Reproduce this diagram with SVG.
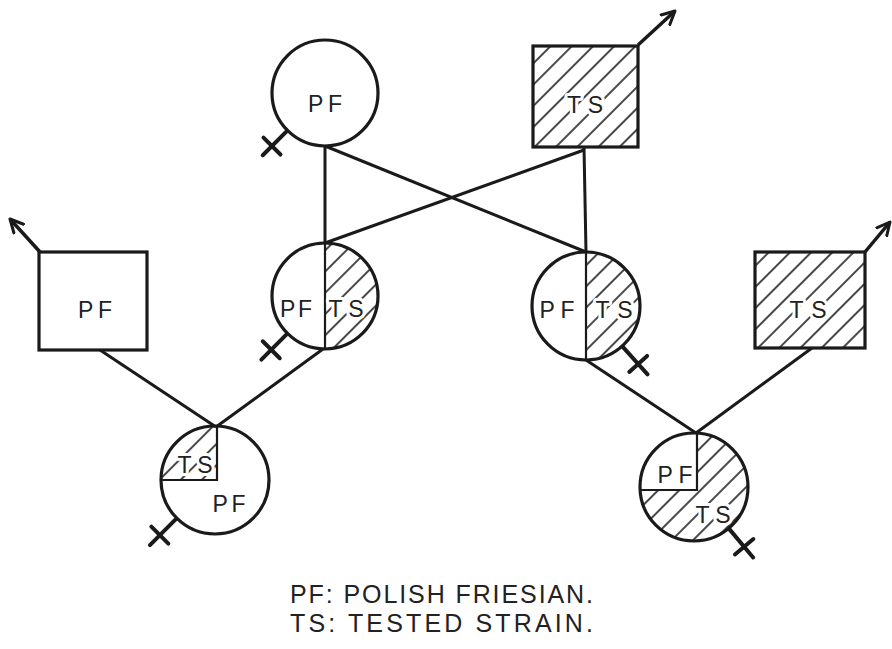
<svg xmlns="http://www.w3.org/2000/svg" width="892" height="649" viewBox="0 0 892 649">
<style>
.sh{fill:none;stroke:#1a1a1a;stroke-width:3.2}
.hf{fill:url(#hatch);stroke:none}
.dv{fill:none;stroke:#1a1a1a;stroke-width:2.2}
.cn{fill:none;stroke:#1a1a1a;stroke-width:3}
.fm{fill:none;stroke:#1a1a1a;stroke-width:4;stroke-linecap:round}
.ar{fill:none;stroke:#1a1a1a;stroke-width:3.5}
text{font-family:"Liberation Sans","DejaVu Sans",sans-serif;fill:#222;}
.lb{font-size:23px;text-anchor:middle}
.hl{stroke:#fff;stroke-width:6;paint-order:stroke;stroke-linejoin:round}
.lg{font-size:25px}
</style>
<defs>
<pattern id="hatch" patternUnits="userSpaceOnUse" width="15" height="15" patternTransform="rotate(45)">
<line x1="2" y1="-2" x2="2" y2="17" stroke="#1a1a1a" stroke-width="1.6"/>
</pattern>
<marker id="ah" viewBox="0 0 16 16" refX="14" refY="8" markerWidth="16" markerHeight="16" markerUnits="userSpaceOnUse" orient="auto">
<path d="M1,1.5 L14,8 L1,14.5" fill="none" stroke="#1a1a1a" stroke-width="3" stroke-linecap="round" stroke-linejoin="round"/>
</marker>
</defs>
<rect width="892" height="649" fill="#fff"/>

<g id="connectors">
<line class="cn" x1="325" y1="146" x2="325" y2="243"/>
<line class="cn" x1="325" y1="146" x2="586" y2="252"/>
<line class="cn" x1="584" y1="147" x2="586" y2="252"/>
<line class="cn" x1="584" y1="150" x2="325" y2="243"/>
<line class="cn" x1="100" y1="350" x2="216" y2="427"/>
<line class="cn" x1="323" y1="349" x2="216" y2="427"/>
<line class="cn" x1="586" y1="360" x2="696" y2="433"/>
<line class="cn" x1="812" y1="348" x2="696" y2="433"/>
<line class="ar" x1="638" y1="45" x2="675" y2="11" marker-end="url(#ah)"/>
<line class="ar" x1="40" y1="252" x2="10" y2="219" marker-end="url(#ah)"/>
<line class="ar" x1="865" y1="252" x2="890" y2="222" marker-end="url(#ah)"/>
</g>

<g id="node-pf-top">
<circle class="sh" cx="325" cy="93" r="53"/>
<g transform="translate(325,93) rotate(135)"><line class="fm" x1="54" y1="0" x2="88" y2="0"/><line class="fm" x1="75" y1="-12" x2="75" y2="12"/></g>
<text class="lb" x="325" y="112" textLength="34">PF</text>
</g>

<g id="node-ts-top">
<rect class="hf" x="533" y="46" width="105" height="101"/>
<rect class="sh" x="533" y="46" width="105" height="101"/>
<text class="lb hl" x="585" y="113" textLength="36">TS</text>
</g>

<g id="node-pf-left">
<rect class="sh" x="39" y="252" width="108" height="98"/>
<text class="lb" x="95" y="318" textLength="34">PF</text>
</g>

<g id="node-mid-left">
<path class="hf" d="M325,243 A53,53 0 0 1 325,349 Z"/>
<circle class="sh" cx="325" cy="296" r="53"/>
<line class="dv" x1="325" y1="243" x2="325" y2="349"/>
<g transform="translate(325,296) rotate(135)"><line class="fm" x1="54" y1="0" x2="90" y2="0"/><line class="fm" x1="76" y1="-12" x2="76" y2="12"/></g>
<text class="lb" x="296" y="317" textLength="32">PF</text>
<text class="lb hl" x="346" y="317" textLength="35">TS</text>
</g>

<g id="node-mid-right">
<path class="hf" d="M586,252 A54,54 0 0 1 586,360 Z"/>
<circle class="sh" cx="586" cy="306" r="54"/>
<line class="dv" x1="586" y1="252" x2="586" y2="360"/>
<g transform="translate(586,306) rotate(48)"><line class="fm" x1="55" y1="0" x2="92" y2="0"/><line class="fm" x1="78" y1="-12" x2="78" y2="12"/></g>
<text class="lb" x="557" y="318" textLength="35">PF</text>
<text class="lb hl" x="614" y="318" textLength="37">TS</text>
</g>

<g id="node-ts-right">
<rect class="hf" x="755" y="252" width="110" height="96"/>
<rect class="sh" x="755" y="252" width="110" height="96"/>
<text class="lb hl" x="808" y="318" textLength="37">TS</text>
</g>

<g id="node-bottom-left">
<path class="hf" d="M217,480 L161,480 A54,54 0 0 1 217,426 Z"/>
<circle class="sh" cx="215" cy="480" r="54"/>
<path class="dv" d="M217,426 L217,480 L161,480"/>
<g transform="translate(215,480) rotate(135)"><line class="fm" x1="55" y1="0" x2="92" y2="0"/><line class="fm" x1="78" y1="-12" x2="78" y2="12"/></g>
<text class="lb hl" x="195" y="473" textLength="35">TS</text>
<text class="lb" x="229" y="512" textLength="33">PF</text>
</g>

<g id="node-bottom-right">
<path class="hf" d="M697,490 L697,433 A54,54 0 1 1 641,490 Z"/>
<circle class="sh" cx="694" cy="487" r="54"/>
<path class="dv" d="M697,433 L697,490 L641,490"/>
<g transform="translate(694,487) rotate(50)"><line class="fm" x1="55" y1="0" x2="92" y2="0"/><line class="fm" x1="78" y1="-12" x2="78" y2="12"/></g>
<text class="lb" x="675" y="483" textLength="35">PF</text>
<text class="lb hl" x="713" y="523" textLength="35">TS</text>
</g>

<g id="legend">
<text class="lg" x="290" y="603" textLength="303">PF: POLISH FRIESIAN.</text>
<text class="lg" x="290" y="632" textLength="303">TS: TESTED STRAIN.</text>
</g>
</svg>
